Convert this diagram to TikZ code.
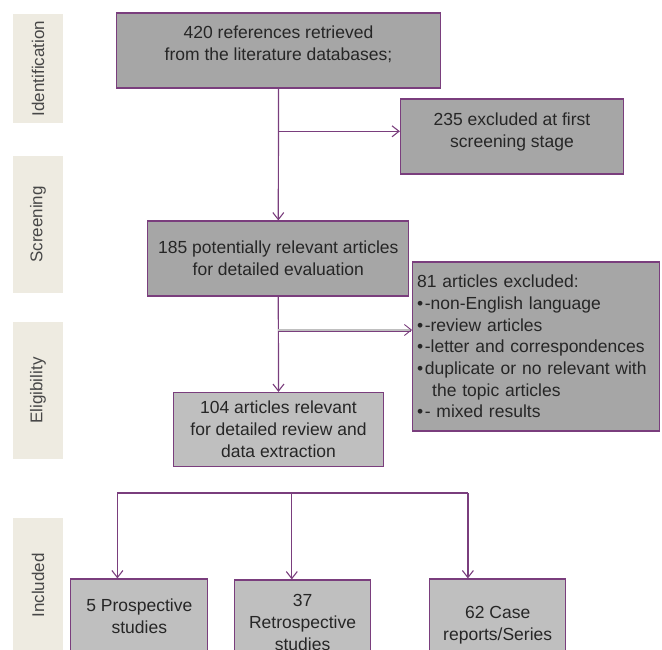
\documentclass[tikz,border=0pt]{standalone}
\usepackage{fontspec}
\setmainfont{Liberation Sans}
\usetikzlibrary{arrows.meta}
\definecolor{boxpurple}{RGB}{122,62,125}
\definecolor{darkfill}{RGB}{166,166,166}
\definecolor{lightfill}{RGB}{191,191,191}
\definecolor{sidebeige}{RGB}{238,235,225}
\definecolor{txt}{RGB}{38,38,38}
\tikzset{
  flowbox/.style={draw=boxpurple, line width=1.2pt, fill=darkfill, text=txt,
    align=center, font=\fontsize{17.5}{22}\selectfont, inner sep=0pt},
  lightbox/.style={flowbox, fill=lightfill},
  sidelabel/.style={fill=sidebeige, rotate=90, text=txt!85, inner sep=0pt,
    font=\fontsize{17}{20}\selectfont, minimum height=50pt},
  conn/.style={draw=boxpurple, line width=1.2pt},
  arr/.style={conn, -{Straight Barb[length=7pt,width=11pt,line width=1.1pt]}},
}
\begin{document}
\begin{tikzpicture}[x=1pt,y=-1pt]
\useasboundingbox (0,0) rectangle (662,649);
\clip (0,0) rectangle (662,649);
% side labels
\node[sidelabel, minimum width=109pt] (sid) at (38,68.5) {Identification};
\node[sidelabel, minimum width=137pt] (sscr) at (38,224.5) {Screening};
\node[sidelabel, minimum width=137pt] (seli) at (38,390.5) {Eligibility};
\node[sidelabel, minimum width=135pt] (sinc) at (38,585.5) {Included};
% boxes
\node[flowbox, minimum width=324pt, minimum height=75pt, text depth=14pt] (b1) at (278.5,50.5)
  {420 references retrieved\\from the literature databases;};
\node[flowbox, minimum width=223pt, minimum height=75pt, text depth=12pt] (b2) at (512,136.5)
  {235 excluded at first\\screening stage};
\node[flowbox, minimum width=261pt, minimum height=75pt] (b3) at (278.3,258.5)
  {185 potentially relevant articles\\for detailed evaluation};
\node[flowbox, minimum width=247pt, minimum height=169pt, text width=238pt,
  align=left, font=\fontsize{17.5}{21.7}\selectfont] (b4) at (536.2,346.5)
  {81 articles excluded:\\
   \textbullet\hspace{1.5pt}-non-English language\\
   \textbullet\hspace{1.5pt}-review articles\\
   \textbullet\hspace{1.5pt}-letter and correspondences\\
   \textbullet\hspace{1.5pt}duplicate or no relevant with\\
   \hspace*{15pt}the topic articles\\
   \textbullet\hspace{1.5pt}- mixed results};
\node[lightbox, minimum width=210pt, minimum height=74pt] (b5) at (278.5,429.5)
  {104 articles relevant\\for detailed review and\\data extraction};
\node[lightbox, minimum width=137pt, minimum height=75pt] (b6) at (139.3,616.5)
  {5 Prospective\\studies};
\node[lightbox, minimum width=136pt, minimum height=84pt] (b7) at (302.6,622)
  {37\\Retrospective\\studies};
\node[lightbox, minimum width=136pt, minimum height=93pt] (b8) at (497.7,625.5)
  {62 Case\\reports/Series};
% connectors
\coordinate (j1) at (278.3,131.3);
\coordinate (j2) at (278.3,330);
\draw[arr] (b1.south) -- (b3.north);
\draw[arr] (j1) -- (j1 -| b2.west);
\draw[arr] (b3.south) -- (b5.north);
\draw[draw=boxpurple, line width=0.9pt, double=lightfill, double distance=1.2pt,
  -{Straight Barb[length=7pt,width=11pt]}] (j2) -- (j2 -| b4.west);
\coordinate (bl) at (117.4,493);
\coordinate (bm) at (291.8,493);
\coordinate (br) at (467.9,493);
\draw[conn] (bl) -- (br);
\draw[arr] (bl) -- (bl |- b6.north);
\draw[arr] (bm) -- (bm |- b7.north);
\draw[arr] (br) -- (br |- b8.north);
\end{tikzpicture}
\end{document}
